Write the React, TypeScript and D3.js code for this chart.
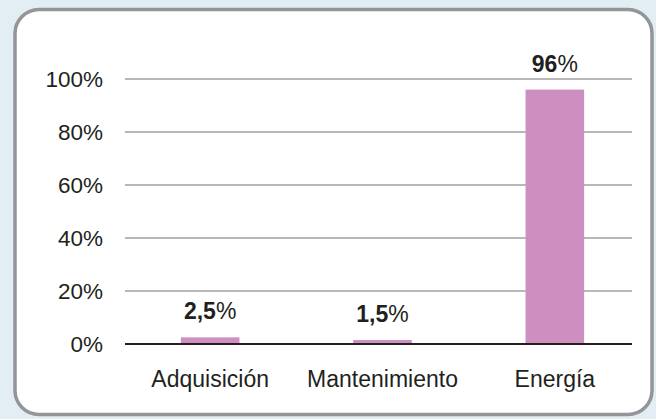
import React from "react";
import * as d3 from "d3";

const categories = ["Adquisición", "Mantenimiento", "Energía"];
const values = [2.5, 1.5, 96];
const valueLabels = ["2,5", "1,5", "96"];
const yTicks = [0, 20, 40, 60, 80, 100];

const W = 656;
const H = 419;
const FONT = "'Liberation Sans', Arial, sans-serif";

export default function App() {
  const x = d3.scaleBand<string>().domain(categories).range([124, 641]).paddingInner(0.66).paddingOuter(0.33);
  const y = d3.scaleLinear().domain([0, 100]).range([344, 79]);
  const axisLeft = 125;
  const axisRight = 632;
  return (
    <svg width={W} height={H} style={{ position: "absolute", left: 0, top: 0, display: "block" }}>
      <rect x={0} y={0} width={W} height={H} fill="#e2eef4" />
      <rect x={15} y={9.5} width={637} height={405} rx={24} ry={24} fill="#ffffff" stroke="#939598" strokeWidth={3.5} />
      {yTicks.map((t) => (
        <g key={t}>
          {t !== 0 && (
            <line x1={axisLeft} x2={axisRight} y1={y(t)} y2={y(t)} stroke="#a0a0a0" strokeWidth={1.5} />
          )}
          <text x={103} y={y(t)} dy="0.35em" textAnchor="end" fontFamily={FONT} fontSize={22.5} fill="#231f20">
            {t}%
          </text>
        </g>
      ))}
      {categories.map((c, i) => (
        <g key={c}>
          <rect x={x(c)} y={y(values[i])} width={x.bandwidth()} height={y(0) - y(values[i])} fill="#cc8fc0" />
          <text
            x={(x(c) as number) + x.bandwidth() / 2}
            y={y(values[i]) - 18}
            textAnchor="middle"
            fontFamily={FONT}
            fontSize={23}
            fill="#231f20"
          >
            <tspan fontWeight="bold">{valueLabels[i]}</tspan>
            <tspan>%</tspan>
          </text>
          <text
            x={(x(c) as number) + x.bandwidth() / 2}
            y={387}
            textAnchor="middle"
            fontFamily={FONT}
            fontSize={23}
            fill="#231f20"
          >
            {c}
          </text>
        </g>
      ))}
      <line x1={axisLeft} x2={axisRight} y1={y(0)} y2={y(0)} stroke="#231f20" strokeWidth={2} />
    </svg>
  );
}
